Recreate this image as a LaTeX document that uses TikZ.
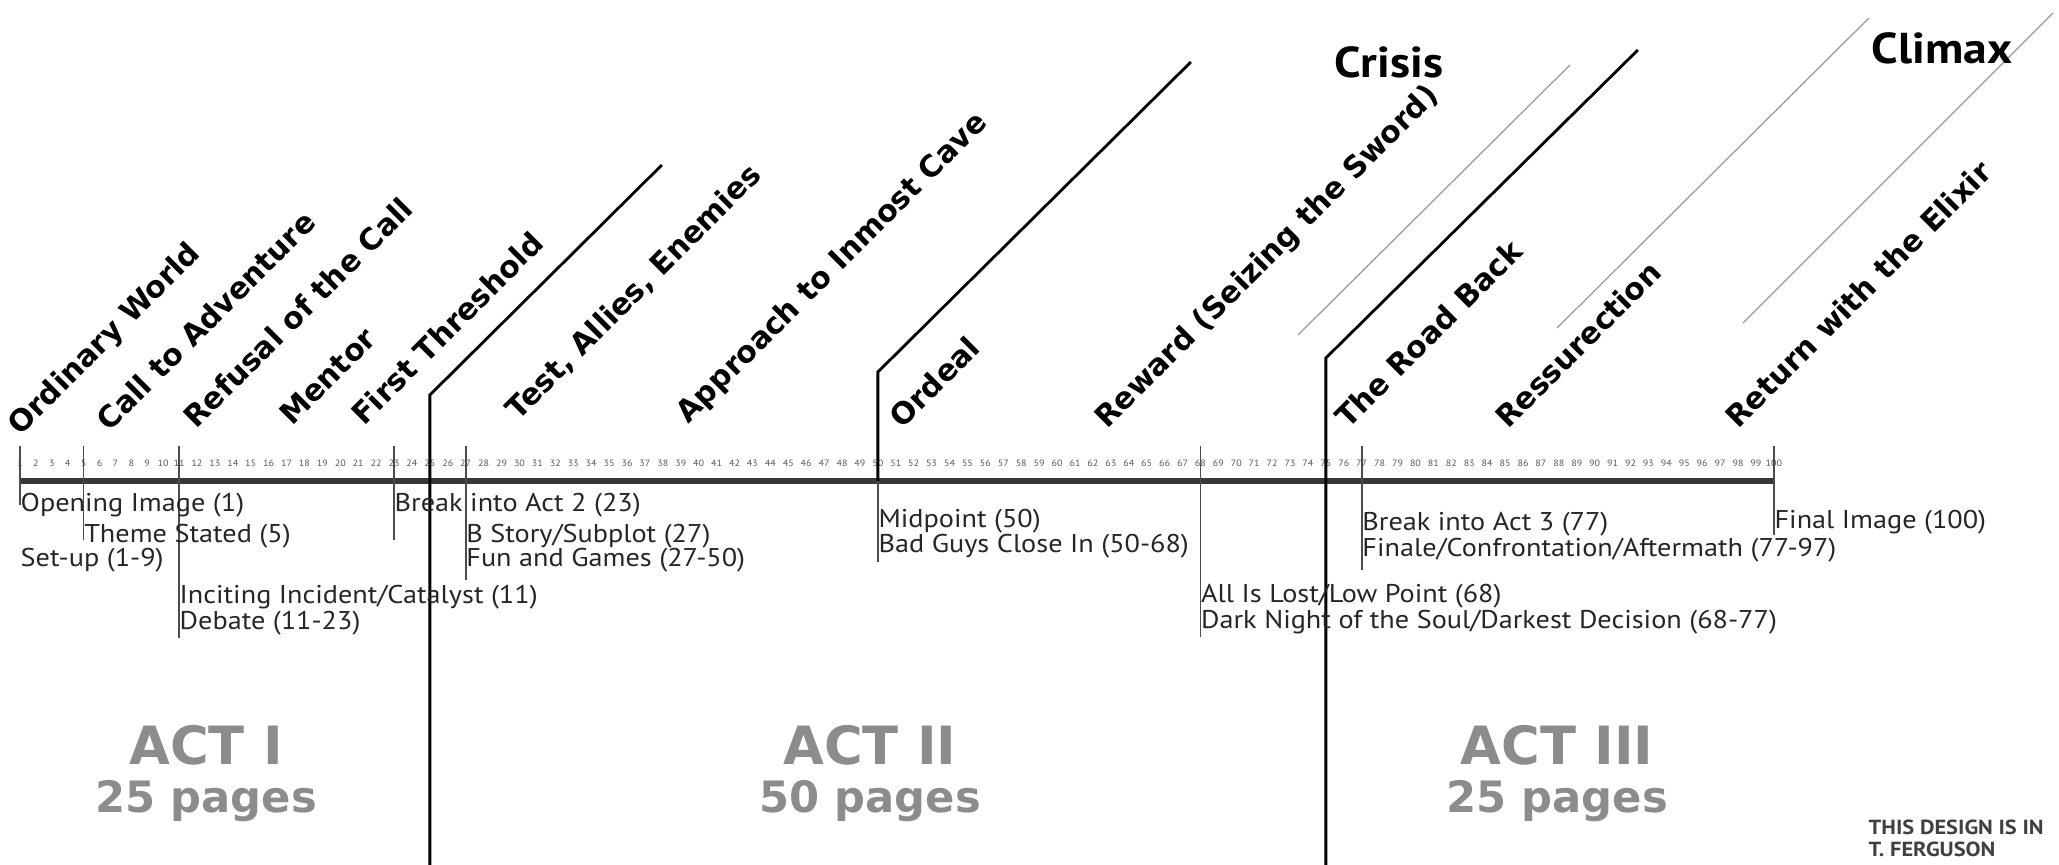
\documentclass[tikz,border=0pt]{standalone}
\usepackage{fontspec}
\usetikzlibrary{positioning}
\newfontfamily\stagefont{DejaVu Sans}
\newfontfamily\beatfont{PT Sans}[FakeStretch=1.1]

\begin{document}
\begin{tikzpicture}[
  x=0.01cm, y=-0.01cm,
  stage/.style={font=\stagefont\bfseries\fontsize{8.5}{10}\selectfont, rotate=45, anchor=base west, inner sep=0pt},
  beat/.style={font=\beatfont\fontsize{7.3}{8}\selectfont, anchor=base west, inner sep=0pt, text=black!85},
  pagenum/.style={font=\beatfont\fontsize{2.6}{3}\selectfont, text=black!65, inner sep=0pt},
  tick/.style={black!70, line width=0.5pt},
  timeline/.style={black!78, line width=1.6pt},
  actline/.style={black, line width=0.8pt},
  guide/.style={black!40, line width=0.35pt},
  act/.style={font=\stagefont\bfseries\fontsize{15}{16}\selectfont, text=black!45, inner sep=0pt},
  pages/.style={font=\stagefont\bfseries\fontsize{12.3}{14}\selectfont, text=black!45, inner sep=0pt},
  peak/.style={font=\beatfont\bfseries\fontsize{12.3}{14}\selectfont, inner sep=0pt},
  credit/.style={font=\beatfont\bfseries\fontsize{5.8}{6}\selectfont, anchor=base west, inner sep=0pt, text=black!75},
]
\useasboundingbox[fill=white] (0,0) rectangle (2059,865);

% page scale
\foreach \p in {1,...,10}
  \node[pagenum] (n\p) at ({20+(\p-1)*15.9},463) {\p};
\foreach \p in {11,...,100}
  \node[pagenum] (n\p) at ({179+(\p-11)*17.92},463) {\p};
\draw[timeline] (n1 |- 0,481) -- (n100 |- 0,481);

\foreach \p/\b in {1/505, 5/540, 11/638, 23/540, 27/580, 50/562, 68/637, 77/570, 100/535}
  \draw[tick] (n\p |- 0,446) -- (n\p |- 0,\b);

% act breaks
\draw[actline] (n25 |- 0,865) -- (n25 |- 0,395) -- ++(232,-230);
\draw[actline] (n50 |- 0,481) -- (n50 |- 0,372) -- ++(313,-310);
\draw[actline] (n75 |- 0,865) -- (n75 |- 0,358) -- ++(312,-308);
\draw[guide] (1298,335) -- ++(272,-270);
\draw[guide] (1557,328) -- ++(312,-310);
\draw[guide] (1743,323) -- ++(310,-310);

\node[stage] (ordinary) at (20,437) {Ordinary World};
\node[stage] (call) at (109,433) {Call to Adventure};
\node[stage] (refusal) at (196,430) {Refusal of the Call};
\node[stage] (mentor) at (292,427) {Mentor};
\node[stage] (threshold) at (364,427) {First Threshold};
\node[stage] (tests) at (518,422) {Test, Allies, Enemies};
\node[stage] (approach) at (688,425) {Approach to Inmost Cave};
\node[stage] (ordeal) at (902,430) {Ordeal};
\node[stage] (reward) at (1107,430) {Reward (Seizing the Sword)};
\node[stage] (roadback) at (1348,430) {The Road Back};
\node[stage] (resurrection) at (1508,430) {Ressurection};
\node[stage] (elixir) at (1738,430) {Return with the Elixir};

\node[peak] (crisis) at (1389,62) {Crisis};
\node[peak] (climax) at (1942,48) {Climax};

\node[beat] (opening) at (n1 |- 0,512) {Opening Image (1)};
\node[beat] (theme) at (n5 |- 0,543) {Theme Stated (5)};
\node[beat] (setup) at (n1 |- 0,567) {Set-up (1-9)};
\node[beat] (catalyst) at (n11 |- 0,604) {Inciting Incident/Catalyst (11)};
\node[beat] (debate) at (n11 |- 0,630) {Debate (11-23)};
\node[beat] (break2) at (n23 |- 0,512) {Break into Act 2 (23)};
\node[beat] (bstory) at (n27 |- 0,543) {B Story/Subplot (27)};
\node[beat] (games) at (n27 |- 0,567) {Fun and Games (27-50)};
\node[beat] (midpoint) at (n50 |- 0,528) {Midpoint (50)};
\node[beat] (badguys) at (n50 |- 0,553) {Bad Guys Close In (50-68)};
\node[beat] (lost) at (n68 |- 0,603) {All Is Lost/Low Point (68)};
\node[beat] (darknight) at (n68 |- 0,629) {Dark Night of the Soul/Darkest Decision (68-77)};
\node[beat] (break3) at (n77 |- 0,531) {Break into Act 3 (77)};
\node[beat] (finale) at (n77 |- 0,557) {Finale/Confrontation/Aftermath (77-97)};
\node[beat] (final) at (n100 |- 0,529) {Final Image (100)};

\node[act] (act1) at (206,745) {ACT I};
\node[pages, below=4pt of act1] (len1) {25 pages};
\node[act] (act2) at (870,745) {ACT II};
\node[pages, below=4pt of act2] (len2) {50 pages};
\node[act] (act3) at (1557,745) {ACT III};
\node[pages, below=4pt of act3] (len3) {25 pages};

\node[credit] (credit1) at (1868,835) {THIS DESIGN IS IN};
\node[credit] (credit2) at (1868,857) {T. FERGUSON};
\end{tikzpicture}
\end{document}
